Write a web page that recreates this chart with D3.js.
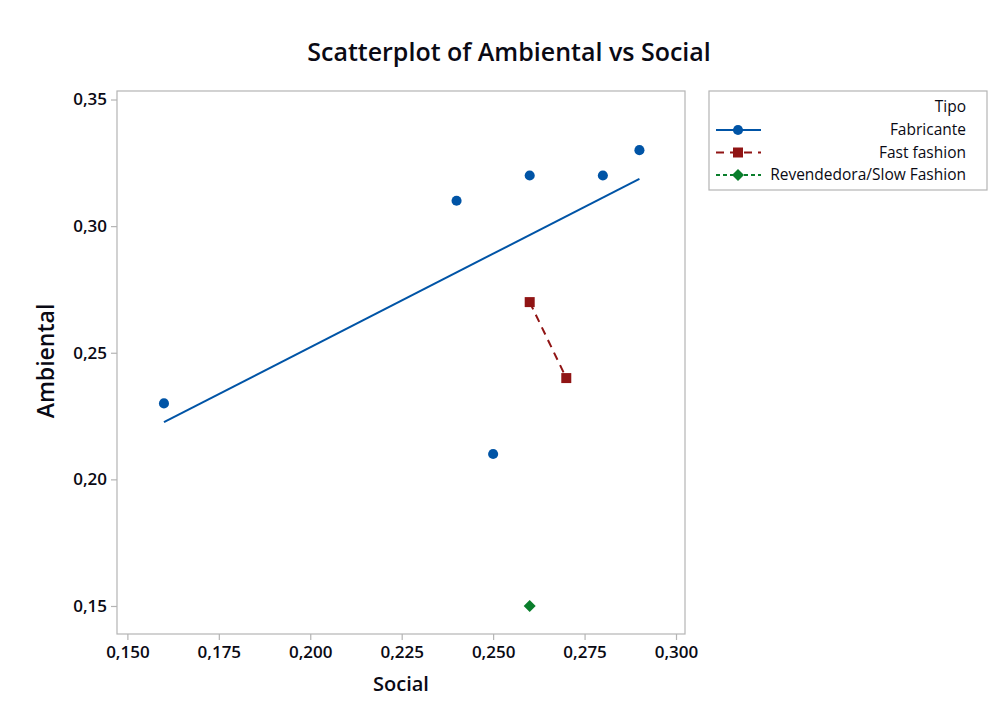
<!DOCTYPE html>
<html lang="pt">
<head>
<meta charset="utf-8">
<title>Scatterplot of Ambiental vs Social</title>
<script src="https://cdn.jsdelivr.net/npm/d3@7"></script>
<style>
  body { margin: 0; background: #fff; }
  svg text { font-family: "Open Sans", "Noto Sans", sans-serif; fill: #0a0a14; }
</style>
</head>
<body>
<script>
// data
var fabSocial = [0.16, 0.24, 0.25, 0.26, 0.28, 0.29];
var fabAmbiental = [0.23, 0.31, 0.21, 0.32, 0.32, 0.33];
var fastSocial = [0.26, 0.27];
var fastAmbiental = [0.27, 0.24];
var revSocial = [0.26];
var revAmbiental = [0.15];

var groups = ["Fabricante", "Fast fashion", "Revendedora/Slow Fashion"];
var xTicks = [0.150, 0.175, 0.200, 0.225, 0.250, 0.275, 0.300];
var yTicks = [0.15, 0.20, 0.25, 0.30, 0.35];

var w = 1002, h = 725;
var frame = {left: 117, right: 685, top: 91, bottom: 634};

var colors = ["#0054a6", "#901414", "#0a7e2c"];
var dashes = [null, "8,6", "4,3"];
var symbols = [d3.symbolCircle, d3.symbolSquare, d3.symbolSquare];
var symSizes = [80, 100, 72];
var symRotate = [0, 0, 45];

var series = [
  {x: fabSocial, y: fabAmbiental},
  {x: fastSocial, y: fastAmbiental},
  {x: revSocial, y: revAmbiental}
];

var locale = d3.formatLocale({decimal: ",", thousands: ".", grouping: [3], currency: ["", ""]});

var xScale = d3.scaleLinear()
  .domain([0.14716, 0.30246])
  .range([frame.left, frame.right]);
var yScale = d3.scaleLinear()
  .domain([0.13894, 0.35336])
  .range([frame.bottom, frame.top]);

var svg = d3.select("body").append("svg")
  .attr("width", w)
  .attr("height", h);

// title
svg.append("text")
  .attr("x", 509).attr("y", 61)
  .attr("text-anchor", "middle")
  .attr("font-size", "25px")
  .attr("font-weight", 600)
  .text("Scatterplot of Ambiental vs Social");

// frame
svg.append("rect")
  .attr("x", frame.left).attr("y", frame.top)
  .attr("width", frame.right - frame.left)
  .attr("height", frame.bottom - frame.top)
  .attr("fill", "none")
  .attr("stroke", "#b4b4b4")
  .attr("stroke-width", 1.2);

// axes
var xAxis = d3.axisBottom(xScale)
  .tickValues(xTicks)
  .tickSize(6)
  .tickPadding(6)
  .tickFormat(locale.format(".3f"));
var yAxis = d3.axisLeft(yScale)
  .tickValues(yTicks)
  .tickSize(6)
  .tickPadding(4)
  .tickFormat(locale.format(".2f"));

var gx = svg.append("g")
  .attr("transform", "translate(0," + frame.bottom + ")")
  .call(xAxis);
var gy = svg.append("g")
  .attr("transform", "translate(" + frame.left + ",0)")
  .call(yAxis);

[gx, gy].forEach(function(g) {
  g.select(".domain").remove();
  g.selectAll(".tick line").attr("stroke", "#b4b4b4").attr("stroke-width", 1.2);
  g.selectAll(".tick text")
    .attr("font-size", "17px")
    .attr("font-weight", 600)
    .attr("font-family", "'Open Sans', sans-serif")
    .attr("fill", "#0a0a14");
});

// axis titles
svg.append("text")
  .attr("x", 401).attr("y", 691)
  .attr("text-anchor", "middle")
  .attr("font-size", "20px")
  .attr("font-weight", 600)
  .text("Social");
svg.append("text")
  .attr("transform", "translate(54,361) rotate(-90)")
  .attr("text-anchor", "middle")
  .attr("font-size", "23px")
  .attr("font-weight", 600)
  .text("Ambiental");

// least squares fit per group
function fit(xs, ys) {
  var mx = d3.mean(xs), my = d3.mean(ys);
  var sxy = d3.sum(xs, function(d, i) { return (d - mx) * (ys[i] - my); });
  var sxx = d3.sum(xs, function(d) { return (d - mx) * (d - mx); });
  var b = sxy / sxx;
  var x0 = d3.min(xs), x1 = d3.max(xs);
  return [[x0, my + b * (x0 - mx)], [x1, my + b * (x1 - mx)]];
}

var line = d3.line()
  .x(function(d) { return xScale(d[0]); })
  .y(function(d) { return yScale(d[1]); });

series.forEach(function(s, k) {
  if (s.x.length > 1) {
    svg.append("path")
      .datum(fit(s.x, s.y))
      .attr("d", line)
      .attr("fill", "none")
      .attr("stroke", colors[k])
      .attr("stroke-width", 2)
      .attr("stroke-dasharray", dashes[k]);
  }
  svg.selectAll(".pt" + k)
    .data(s.x)
    .enter()
    .append("path")
    .attr("class", "pt" + k)
    .attr("transform", function(d, i) {
      return "translate(" + xScale(d) + "," + yScale(s.y[i]) + ") rotate(" + symRotate[k] + ")";
    })
    .attr("d", d3.symbol().type(symbols[k]).size(symSizes[k]))
    .attr("fill", colors[k]);
});

// legend
var lg = svg.append("g");
lg.append("rect")
  .attr("x", 709).attr("y", 91)
  .attr("width", 278).attr("height", 99)
  .attr("fill", "#fff")
  .attr("stroke", "#b4b4b4")
  .attr("stroke-width", 1.2);
lg.append("text")
  .attr("x", 966).attr("y", 112)
  .attr("text-anchor", "end")
  .attr("font-size", "15.5px")
  .text("Tipo");

groups.forEach(function(name, k) {
  var cy = 130 + k * 22.5;
  lg.append("line")
    .attr("x1", 716).attr("x2", 761)
    .attr("y1", cy).attr("y2", cy)
    .attr("stroke", colors[k])
    .attr("stroke-width", 2)
    .attr("stroke-dasharray", dashes[k]);
  lg.append("path")
    .attr("transform", "translate(738," + cy + ") rotate(" + symRotate[k] + ")")
    .attr("d", d3.symbol().type(symbols[k]).size(symSizes[k]))
    .attr("fill", colors[k]);
  lg.append("text")
    .attr("x", 966).attr("y", cy + 5)
    .attr("text-anchor", "end")
    .attr("font-size", "15.5px")
    .text(name);
});
</script>
</body>
</html>
